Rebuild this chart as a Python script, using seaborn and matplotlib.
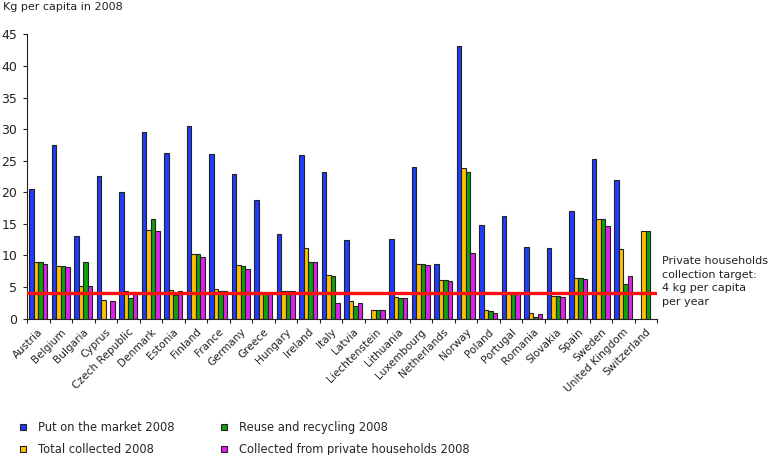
import numpy as np
import pandas as pd
import matplotlib
matplotlib.use("Agg")
import matplotlib.pyplot as plt
import matplotlib.transforms as mtransforms
from matplotlib.lines import Line2D
import seaborn as sns

countries = ["Austria", "Belgium", "Bulgaria", "Cyprus", "Czech Republic", "Denmark",
             "Estonia", "Finland", "France", "Germany", "Greece", "Hungary", "Ireland",
             "Italy", "Latvia", "Liechtenstein", "Lithuania", "Luxembourg", "Netherlands",
             "Norway", "Poland", "Portugal", "Romania", "Slovakia", "Spain", "Sweden",
             "United Kingdom", "Switzerland"]

put_on_market = [20.5, 27.5, 13.0, 22.5, 20.0, 29.5, 26.3, 30.5, 26.0, 22.9, 18.7, 13.4,
                 25.9, 23.2, 12.5, np.nan, 12.6, 24.0, 8.7, 43.1, 14.8, 16.3, 11.3, 11.1,
                 17.0, 25.3, 21.9, np.nan]
total_collected = [8.9, 8.3, 5.2, 3.0, 4.3, 14.1, 4.5, 10.2, 4.6, 8.4, 4.1, 4.4,
                   11.2, 6.9, 2.8, 1.3, 3.4, 8.6, 6.1, 23.9, 1.4, 4.0, 0.9, 3.5,
                   6.4, 15.8, 11.0, 13.9]
reuse_recycling = [8.9, 8.3, 9.0, np.nan, 3.3, 15.7, 3.7, 10.2, 4.3, 8.3, 4.1, 4.3,
                   8.9, 6.7, 2.0, 1.3, 3.3, 8.6, 6.1, 23.2, 1.2, 4.0, 0.3, 3.5,
                   6.4, 15.8, 5.4, 13.9]
private_households = [8.7, 8.1, 5.1, 2.8, 4.2, 13.8, 4.3, 9.8, 4.3, 7.8, 4.1, 4.4,
                      8.9, 2.5, 2.5, 1.3, 3.3, 8.4, 6.0, 10.4, 0.8, 4.0, 0.7, 3.4,
                      6.2, 14.6, 6.8, np.nan]

series_names = ["Put on the market 2008", "Total collected 2008",
                "Reuse and recycling 2008", "Collected from private households 2008"]
series_values = [put_on_market, total_collected, reuse_recycling, private_households]
colors = ["#1f3cff", "#ffc000", "#10a010", "#e020f0"]

target_value = 4
target_label = "Private households\ncollection target:\n4 kg per capita\nper year"

rows = []
for name, vals in zip(series_names, series_values):
    for c, v in zip(countries, vals):
        rows.append({"country": c, "series": name, "value": v})
df = pd.DataFrame(rows)

sns.set_style("white")
plt.rcParams['font.family'] = ['DejaVu Sans']

fig = plt.figure(figsize=(7.68, 4.55), dpi=100)
ax = fig.add_axes([27 / 768, 1 - 318.5 / 455, 630 / 768, (318.5 - 34.5) / 455])

sns.barplot(data=df, x="country", y="value", hue="series", order=countries,
            hue_order=series_names, palette=colors, edgecolor="#222222",
            linewidth=0.8, width=0.8, errorbar=None, ax=ax, legend=False,
            saturation=1)

ax.axhline(target_value, color="#ff1010", linewidth=2.4, zorder=5)

ax.set_xlim(-0.5, len(countries) - 0.5)
ax.set_ylim(0, 45)
ax.set_yticks(range(0, 46, 5))
ax.set_xlabel("")
ax.set_ylabel("")
for s in ["top", "right"]:
    ax.spines[s].set_visible(False)
for s in ["left", "bottom"]:
    ax.spines[s].set_color("#222222")
    ax.spines[s].set_linewidth(0.8)

ax.set_xticks(range(len(countries)))
ax.set_xticklabels(countries, rotation=45, ha="right", rotation_mode="anchor",
                   fontsize=7.6, color="#222222")
offset = mtransforms.ScaledTranslation(8 / 100, -2 / 100, fig.dpi_scale_trans)
for lbl in ax.get_xticklabels():
    lbl.set_transform(lbl.get_transform() + offset)
ax.tick_params(axis="x", which="major", length=0, pad=6)
ax.set_xticks(np.arange(-0.5, len(countries), 1.0), minor=True)
ax.tick_params(axis="x", which="minor", length=3, direction="out", width=0.8,
               color="#222222", bottom=True)
ax.tick_params(axis="y", length=3, direction="out", width=0.8, color="#222222",
               labelsize=9, labelcolor="#222222", left=True, pad=4)

fig.text(3 / 768, 1 - 7 / 455, "Kg per capita in 2008", fontsize=8.0,
         color="#222222", va="center", ha="left")

fig.text(662 / 768, 1 - 256 / 455, target_label, fontsize=8.0, color="#222222",
         va="top", ha="left", linespacing=1.45)

handles = [Line2D([], [], marker="s", linestyle="none", markersize=5,
                  markerfacecolor=c, markeredgecolor="#222222", markeredgewidth=0.8)
           for c in colors]
fig.legend(handles, series_names, loc="upper left",
           bbox_to_anchor=(17 / 768, 1 - 421 / 455), ncol=2, frameon=False,
           fontsize=8.3, handlelength=1.0, handletextpad=0.8,
           columnspacing=3.8, labelspacing=0.75, borderaxespad=0,
           borderpad=0)

fig.savefig("out.png", dpi=100)
